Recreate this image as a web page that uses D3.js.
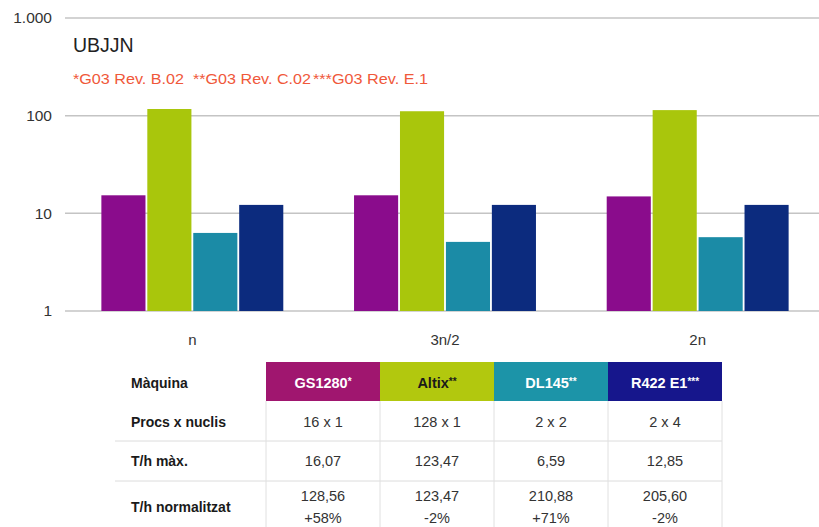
<!DOCTYPE html>
<html>
<head>
<meta charset="utf-8">
<script src="https://cdn.jsdelivr.net/npm/d3@7"></script>
<style>
  body { margin: 0; background: #fff; }
  svg { display: block; font-family: "Liberation Sans", Arial, sans-serif; }
</style>
</head>
<body>
<svg id="chart" width="819" height="527"></svg>
<script>
// data
const groups = ["n", "3n/2", "2n"]
const machines = ["GS1280", "Altix", "DL145", "R422 E1"]
const stars = ["*", "**", "**", "***"]
const values = {
  "n":    [15.3, 117, 6.3, 12.2],
  "3n/2": [15.3, 111, 5.1, 12.2],
  "2n":   [14.9, 114, 5.7, 12.2]
}
const yTicks = [1, 10, 100, 1000]
const yTickLabels = ["1", "10", "100", "1.000"]
const notes = ["*G03 Rev. B.02", "**G03 Rev. C.02", "***G03 Rev. E.1"]

const rowLabels = ["Màquina", "Procs x nuclis", "T/h màx.", "T/h normalitzat"]
const procs = ["16 x 1", "128 x 1", "2 x 2", "2 x 4"]
const thMax = ["16,07", "123,47", "6,59", "12,85"]
const thNorm = ["128,56", "123,47", "210,88", "205,60"]
const thPct = ["+58%", "-2%", "+71%", "-2%"]

const barColors = ["#8a0c8c", "#a9c60c", "#1b8ba6", "#0c2b7e"]
const headColors = ["#a0166f", "#b2c80e", "#1c94a8", "#16168c"]
const headText = ["#fff", "#1a1a1a", "#fff", "#fff"]

const svg = d3.select('#chart')

// ---- chart ----
const y = d3.scaleLog().domain([1, 1000]).range([311, 18])
const x0 = d3.scaleBand().domain(groups).range([66, 824])
const bw = x0.bandwidth()
const x1 = d3.scaleBand().domain(machines)
  .range([bw * 0.14, bw * 0.86])
  .paddingInner(0.04)

// grid lines
svg.append('g')
  .selectAll('line')
  .data(yTicks)
  .join('line')
  .attr('x1', 65).attr('x2', 819)
  .attr('y1', d => y(d)).attr('y2', d => y(d))
  .attr('stroke', '#c4c4c4')
  .attr('stroke-width', 1.5)

svg.append('g')
  .selectAll('text')
  .data(yTicks)
  .join('text')
  .attr('x', 52)
  .attr('y', d => y(d))
  .attr('dy', '0.35em')
  .attr('text-anchor', 'end')
  .attr('font-size', 15.5)
  .attr('fill', '#333')
  .text((d, i) => yTickLabels[i])

// bars
const g = svg.append('g')
  .selectAll('g')
  .data(groups)
  .join('g')
  .attr('transform', d => `translate(${x0(d)},0)`)

g.selectAll('rect')
  .data(d => values[d].map((v, i) => ({ m: machines[i], v, i })))
  .join('rect')
  .attr('x', d => x1(d.m))
  .attr('width', x1.bandwidth())
  .attr('y', d => y(d.v))
  .attr('height', d => y(1) - y(d.v))
  .attr('fill', d => barColors[d.i])

// x labels
svg.append('g')
  .selectAll('text')
  .data(groups)
  .join('text')
  .attr('x', d => x0(d) + bw / 2)
  .attr('y', 340)
  .attr('dy', '0.35em')
  .attr('text-anchor', 'middle')
  .attr('font-size', 15)
  .attr('fill', '#333')
  .text(d => d)

// title and note
svg.append('text')
  .attr('x', 73).attr('y', 52)
  .attr('font-size', 19.5)
  .attr('fill', '#222')
  .text('UBJJN')

const noteX = [73, 193, 313]
const noteW = [111, 118, 115]
svg.append('g')
  .selectAll('text')
  .data(notes)
  .join('text')
  .attr('x', (d, i) => noteX[i])
  .attr('y', 84)
  .attr('font-size', 14)
  .attr('textLength', (d, i) => noteW[i])
  .attr('lengthAdjust', 'spacingAndGlyphs')
  .attr('fill', '#f0583a')
  .text(d => d)

// ---- table ----
const colX = d3.scaleBand().domain(machines).range([266, 722])
const rowY = [362, 401, 441, 481, 527]   // row edges
const tleft = 115

const t = svg.append('g')

// header cells
t.selectAll('rect.head')
  .data(machines)
  .join('rect')
  .attr('class', 'head')
  .attr('x', d => colX(d))
  .attr('y', rowY[0])
  .attr('width', colX.bandwidth())
  .attr('height', rowY[1] - rowY[0])
  .attr('fill', (d, i) => headColors[i])

const ht = t.selectAll('text.head')
  .data(machines)
  .join('text')
  .attr('class', 'head')
  .attr('x', d => colX(d) + colX.bandwidth() / 2)
  .attr('y', 383)
  .attr('dy', '0.35em')
  .attr('text-anchor', 'middle')
  .attr('font-size', 14.5)
  .attr('font-weight', 'bold')
  .attr('fill', (d, i) => headText[i])
ht.append('tspan').text(d => d)
ht.append('tspan')
  .attr('font-size', 10)
  .attr('dy', '-0.3em')
  .text((d, i) => stars[i])

// grid of the body
t.selectAll('line.h')
  .data([rowY[2], rowY[3]])
  .join('line')
  .attr('class', 'h')
  .attr('x1', tleft).attr('x2', 722)
  .attr('y1', d => d).attr('y2', d => d)
  .attr('stroke', '#dcdcdc')

t.selectAll('line.v')
  .data([266, 380, 494, 608, 722])
  .join('line')
  .attr('class', 'v')
  .attr('x1', d => d).attr('x2', d => d)
  .attr('y1', rowY[1]).attr('y2', rowY[4])
  .attr('stroke', '#e0e0e0')

// row labels
const labelY = [383, 422, 461, 507]
t.selectAll('text.lab')
  .data(rowLabels)
  .join('text')
  .attr('class', 'lab')
  .attr('x', 131)
  .attr('y', (d, i) => labelY[i])
  .attr('dy', '0.35em')
  .attr('font-size', 14)
  .attr('font-weight', 'bold')
  .attr('fill', '#1a1a1a')
  .text(d => d)

// body values
const cells = []
machines.forEach((m, i) => {
  cells.push({ m, y: 422, s: procs[i] })
  cells.push({ m, y: 461, s: thMax[i] })
  cells.push({ m, y: 496, s: thNorm[i] })
  cells.push({ m, y: 518, s: thPct[i] })
})

t.selectAll('text.cell')
  .data(cells)
  .join('text')
  .attr('class', 'cell')
  .attr('x', d => colX(d.m) + colX.bandwidth() / 2)
  .attr('y', d => d.y)
  .attr('dy', '0.35em')
  .attr('text-anchor', 'middle')
  .attr('font-size', 14.5)
  .attr('fill', '#333')
  .text(d => d.s)
</script>
</body>
</html>
